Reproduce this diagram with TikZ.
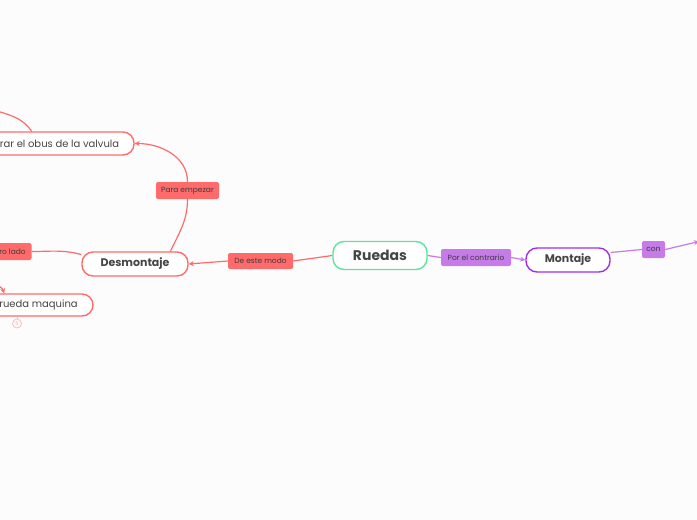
\documentclass[tikz,border=0pt]{standalone}
\usepackage{fontspec}
\setmainfont{Poppins}
\usetikzlibrary{arrows.meta,calc}
\definecolor{redmap}{HTML}{FF6B6B}
\definecolor{greenmap}{HTML}{5EE39A}
\definecolor{purpmap}{HTML}{A22EEB}
\definecolor{purplbl}{HTML}{C57BE8}
\definecolor{txtgray}{HTML}{454545}
\definecolor{bgmap}{HTML}{FCFCFC}

\begin{document}
\begin{tikzpicture}[x=1pt,y=-1pt,>={Stealth[length=5pt,width=5pt]},
    topic/.style={draw, line width=1.4pt, rounded corners=11pt, fill=white,
        text=txtgray, inner sep=0pt},
    lbl/.style={rounded corners=2pt, inner sep=0pt, text=txtgray!85!black,
        font=\fontsize{7.5}{8}\selectfont},
    redline/.style={draw=redmap, line width=1.2pt},
    purpline/.style={draw=purplbl, line width=1.2pt}]

    % Canvas
    \fill[bgmap] (0,0) rectangle (697,520);
    \useasboundingbox (0,0) rectangle (697,520);
    \clip (0,0) rectangle (697,520);

    % Main topics
    \node[topic, draw=greenmap, minimum width=94pt, minimum height=28pt,
        font=\bfseries\fontsize{14}{16}\selectfont] (ruedas) at (380,255.5) {Ruedas};
    \node[topic, draw=redmap, minimum width=106pt, minimum height=24pt,
        font=\bfseries\fontsize{11}{13}\selectfont] (desm) at (135,264) {Desmontaje};
    \node[topic, draw=purpmap, minimum width=84pt, minimum height=24pt,
        font=\bfseries\fontsize{11}{13}\selectfont] (montaje) at (568,260) {Montaje};

    % Subtopics (cut at the left edge)
    \node[topic, draw=redmap, minimum width=149pt, minimum height=23pt,
        font=\fontsize{10}{12}\selectfont] (valv) at (59.5,143.5) {rar el obus de la valvula};
    \node[topic, draw=redmap, minimum width=109pt, minimum height=22pt,
        font=\fontsize{10}{12}\selectfont] (rueda) at (38.5,305) {rueda maquina};
    \node[circle, draw=redmap!45, line width=0.8pt, inner sep=0pt, minimum size=9pt,
        text=redmap!60, font=\fontsize{5}{5}\selectfont] (count) at (17,323.5) {5};

    % Labels
    \node[lbl, fill=redmap, minimum width=63pt, minimum height=17pt] (para) at (187.5,190.5) {Para empezar};
    \node[lbl, fill=redmap, minimum width=65pt, minimum height=16pt] (demodo) at (260.5,261) {De este modo};
    \node[lbl, fill=redmap, minimum width=38pt, minimum height=17pt] (rolado) at (12.5,251.5) {ro lado};
    \node[lbl, fill=purplbl, minimum width=70pt, minimum height=17pt] (contrario) at (476,257.5) {Por el contrario};
    \node[lbl, fill=purplbl, minimum width=23pt, minimum height=17pt] (con) at (653.5,249.5) {con};

    % Loose ends
    \coordinate (valvup) at (-12,108);
    \coordinate (ruedain) at (-8,283);
    \coordinate (conout) at (699,241.5);

    % Connectors
    \draw[redline] (ruedas.west) -- (demodo.east);
    \draw[redline,->] (demodo.west) -- (desm.east);
    \draw[redline] ($(desm.north)!0.66!(desm.north east)$) to[out=65,in=-90] (para.south);
    \draw[redline,->] (para.north) to[out=90,in=0] (valv.east);
    \draw[redline] (desm.170) to[out=165,in=0] (rolado.east);
    \draw[redline] ($(valv.north west)!0.315!(valv.north east)$) to[out=125,in=-20] (valvup);
    \draw[redline,->] (ruedain) to[out=-20,in=110] ($(rueda.north west)!0.19!(rueda.north east)$);
    \draw[draw=redmap!45, line width=0.8pt] (count.north) -- (count.north |- rueda.south);
    \draw[purpline] (ruedas.east) -- (contrario.west);
    \draw[purpline,->] (contrario.east) -- (montaje.west);
    \draw[purpline] (montaje.10) -- (con.west);
    \draw[purpline,->] (con.east) -- (conout);

\end{tikzpicture}
\end{document}
